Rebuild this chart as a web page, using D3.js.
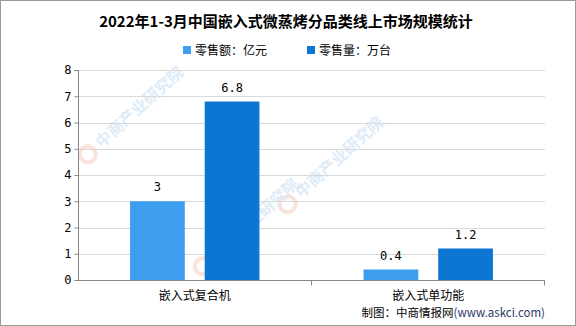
<!DOCTYPE html>
<html>
<head>
<meta charset="utf-8">
<script src="https://cdn.jsdelivr.net/npm/d3@7"></script>
<style>
  body { margin: 0; background: #fff; }
  svg { display: block; font-family: "Noto Sans CJK SC", "Noto Sans", sans-serif; }
</style>
</head>
<body>
<div id="chart"></div>
<script>
let width = 576,
    height = 326;

let margin = {
    top: 70,
    bottom: 46,
    left: 78,
    right: 31
}

let visWidth = width - margin.left - margin.right,
    visHeight = height - margin.top - margin.bottom;

// data
let categories = ["嵌入式复合机", "嵌入式单功能"];
let seriesNames = ["零售额：亿元", "零售量：万台"];
let salesValue = [3, 0.4];
let salesVolume = [6.8, 1.2];
let yTicks = [0, 1, 2, 3, 4, 5, 6, 7, 8];

let colors = ["#3d9ef0", "#0c76d2"];

let svg = d3.select("#chart")
    .append("svg")
    .attr("width", width)
    .attr("height", height)

// frame
svg.append("rect")
    .attr("x", 0.5)
    .attr("y", 0.5)
    .attr("width", width - 1)
    .attr("height", height - 1)
    .attr("fill", "#fff")
    .attr("stroke", "#9a9a9a")

// watermarks (kept away from the real labels)
let wm = svg.append("g").attr("class", "watermark")
let wmPos = [[100, 150], [300, 200], [215, 262]];
wmPos.forEach(function(p) {
    let g = wm.append("g").attr("transform", "translate(" + p[0] + "," + p[1] + ") rotate(-42)")
    g.append("circle").attr("cx", -12).attr("cy", -5).attr("r", 8)
        .attr("fill", "none").attr("stroke", "#fbe3da").attr("stroke-width", 4)
    g.append("text").attr("x", 2).attr("y", 0)
        .attr("font-size", 16).attr("font-weight", "bold")
        .attr("fill", "#deecf7")
        .text("中商产业研究院")
})

let chart = svg.append("g")
    .attr("transform", "translate(" + margin.left + "," + margin.top + ")")

let xScale = d3.scaleBand()
    .domain(categories)
    .range([0, visWidth])

let barScale = d3.scaleBand()
    .domain([0, 1])
    .range([xScale.bandwidth() * 0.223, xScale.bandwidth() * 0.777])
    .paddingInner(0.267)

let yScale = d3.scaleLinear()
    .domain([0, 8])
    .range([visHeight, 0])

// grid
chart.selectAll(".grid")
    .data(yTicks.slice(1))
    .enter().append("line")
    .attr("class", "grid")
    .attr("x1", 0)
    .attr("x2", visWidth)
    .attr("y1", d => Math.round(yScale(d)) + 0.5)
    .attr("y2", d => Math.round(yScale(d)) + 0.5)
    .attr("stroke", "#d9d9d9")

// y axis
let yAxis = chart.append("g")
    .attr("transform", "translate(0.5,0)")
    .call(d3.axisLeft(yScale).tickValues(yTicks).tickSize(4).tickPadding(3).tickFormat(d3.format("d")))
yAxis.select(".domain").attr("stroke", "#888").attr("d", "M-4," + (yScale(8) + 0.5) + "H0V" + (visHeight + 0.5) + "H-4")
yAxis.selectAll(".tick line").attr("stroke", "#888")
yAxis.selectAll(".tick text")
    .attr("font-size", 12)
    .attr("fill", "#000")
    .attr("font-family", "'DejaVu Sans Mono', monospace")

let data = [];
categories.forEach(function(c, i) {
    data.push({cat: c, s: 0, v: salesValue[i]});
    data.push({cat: c, s: 1, v: salesVolume[i]});
})

// bars
chart.selectAll(".bar")
    .data(data)
    .enter().append("rect")
    .attr("class", "bar")
    .attr("x", d => xScale(d.cat) + barScale(d.s))
    .attr("width", barScale.bandwidth())
    .attr("y", d => yScale(d.v))
    .attr("height", d => visHeight - yScale(d.v))
    .attr("fill", d => colors[d.s])

// value labels
chart.selectAll(".label")
    .data(data)
    .enter().append("text")
    .attr("class", "label")
    .attr("x", d => xScale(d.cat) + barScale(d.s) + barScale.bandwidth() / 2)
    .attr("y", d => yScale(d.v) - 10)
    .attr("text-anchor", "middle")
    .attr("font-size", 12)
    .attr("font-family", "'DejaVu Sans Mono', monospace")
    .attr("fill", "#000")
    .text(d => d.v)

// x axis
let xAxis = chart.append("g")
    .attr("transform", "translate(0," + (visHeight + 0.5) + ")")
xAxis.append("line")
    .attr("x1", 0).attr("x2", visWidth)
    .attr("stroke", "#888")
xAxis.selectAll(".xtick")
    .data([1, 2])
    .enter().append("line")
    .attr("x1", d => Math.round(xScale.step() * d) - 0.5)
    .attr("x2", d => Math.round(xScale.step() * d) - 0.5)
    .attr("y1", 0).attr("y2", 5)
    .attr("stroke", "#888")
xAxis.selectAll(".xlabel")
    .data(categories)
    .enter().append("text")
    .attr("x", d => xScale(d) + xScale.bandwidth() / 2)
    .attr("y", 19)
    .attr("text-anchor", "middle")
    .attr("font-size", 12)
    .attr("fill", "#000")
    .text(d => d)

// title
svg.append("text")
    .attr("x", 286)
    .attr("y", 27)
    .attr("text-anchor", "middle")
    .attr("font-size", 15)
    .attr("font-weight", "bold")
    .attr("fill", "#000")
    .text("2022年1-3月中国嵌入式微蒸烤分品类线上市场规模统计")

// legend
let legendX = [183, 307];
let legend = svg.selectAll(".legend")
    .data(seriesNames)
    .enter().append("g")
    .attr("class", "legend")
    .attr("transform", (d, i) => "translate(" + legendX[i] + ",50)")
legend.append("rect")
    .attr("x", 0).attr("y", -4)
    .attr("width", 8).attr("height", 8)
    .attr("fill", (d, i) => colors[i])
legend.append("text")
    .attr("x", 12).attr("y", 4.5)
    .attr("font-size", 12)
    .attr("fill", "#000")
    .text(d => d)

// source
let src = svg.append("text")
    .attr("x", 545)
    .attr("y", 317)
    .attr("text-anchor", "end")
    .attr("font-size", 11.5)
src.append("tspan").attr("fill", "#000").text("制图：中商情报网")
src.append("tspan").attr("fill", "#2b3a67").text("(www.askci.com)")
</script>
</body>
</html>
